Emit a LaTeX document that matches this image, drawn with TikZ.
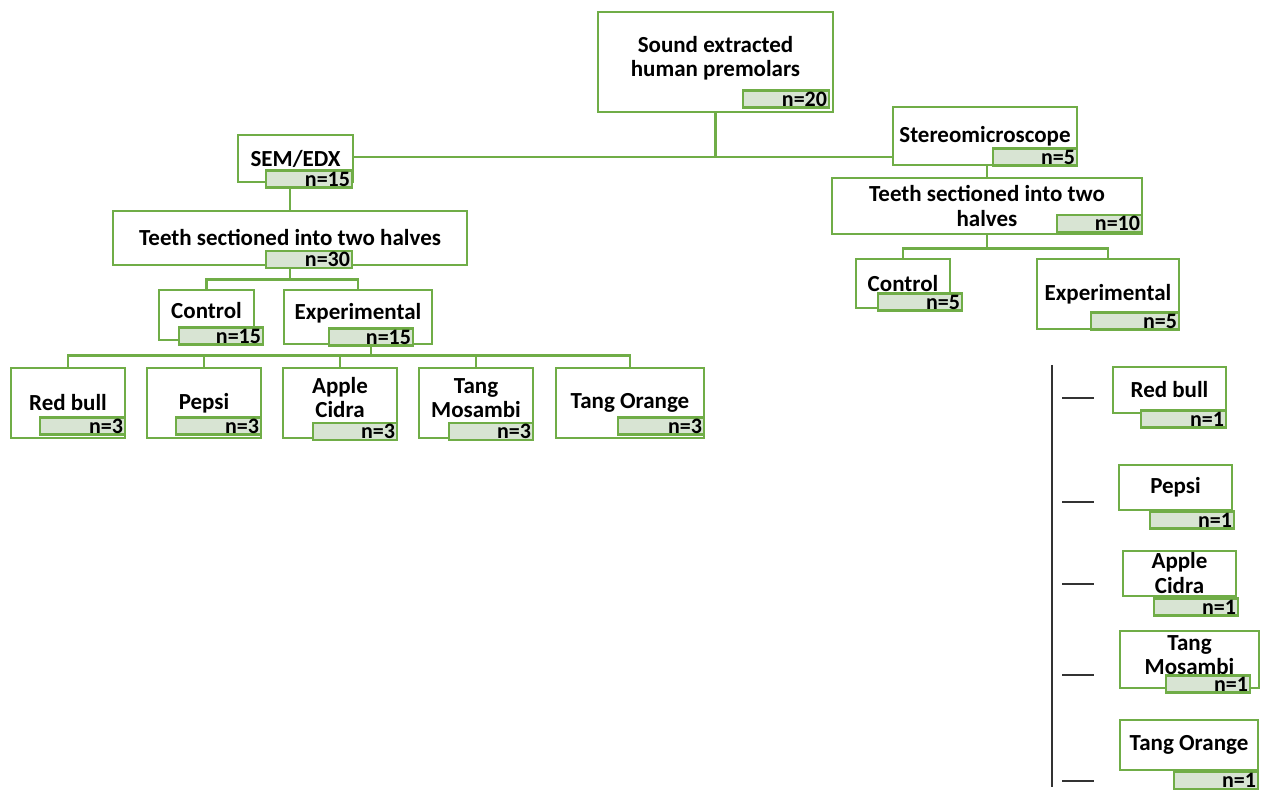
\documentclass[tikz,border=0pt]{standalone}
\usepackage{fontspec}
\setmainfont{Carlito}
\usepackage{tikz}
\usetikzlibrary{positioning, calc}
\definecolor{cG}{RGB}{112,173,71}
\definecolor{cN}{RGB}{216,228,211}
\begin{document}
\begin{tikzpicture}[x=1pt, y=-1pt,
                    txt/.style={inner sep=0pt, align=center, font=\fontsize{23}{24}\selectfont\bfseries},
                    grp/.style={draw=cG, line width=2.8pt, fill=white, inner sep=1pt, align=center,
                                font=\fontsize{23}{25}\selectfont\bfseries},
                    cnt/.style={draw=cG, line width=2.8pt, fill=cN, inner xsep=2pt, inner ysep=0pt,
                                text width=#1, align=right, minimum height=17pt,
                                font=\fontsize{22}{22}\selectfont\bfseries},
                    cnt/.default=80pt,
                    wire/.style={draw=cG, line width=2.8pt}]
    \useasboundingbox (0,0) rectangle (1264,791);

    % Top level
    \node[grp, minimum width=235pt, minimum height=100pt] (top) at (715.5,62) {};
    \node[txt] (topT) at ([yshift=4pt]top.center) {Sound extracted\\human premolars};
    \node[cnt, text width=82pt] (topN) at (786,99) {n=20};

    % Left branch: SEM/EDX
    \node[grp, minimum width=115pt, minimum height=47pt] (sem) at (295.5,158.5) {SEM/EDX};
    \node[cnt, text width=82pt] (semN) at (309,179) {n=15};
    \node[grp, minimum width=354pt, minimum height=54pt] (teethL) at (290,238) {Teeth sectioned into two halves};
    \node[cnt, text width=82pt] (teethLN) at (309,259.5) {n=30};
    \node[grp, minimum width=95pt, minimum height=50pt] (ctrlL) at (206.5,315) {};
    \node[txt] (ctrlLT) at ([yshift=4pt]ctrlL.center) {Control};
    \node[cnt] (ctrlLN) at (221,336) {n=15};
    \node[grp, minimum width=148pt, minimum height=54pt] (expL) at (358,317) {};
    \node[txt] (expLT) at ([yshift=4pt]expL.center) {Experimental};
    \node[cnt] (expLN) at (371,337) {n=15};

    % Drinks, left branch
    \node[grp, minimum width=114pt, minimum height=70pt] (rb) at (68,403) {Red bull};
    \node[cnt, text width=81pt] (rbN) at (82.5,426) {n=3};
    \node[grp, minimum width=114pt, minimum height=70pt] (pe) at (204,403) {Pepsi};
    \node[cnt, text width=81pt] (peN) at (218.5,426) {n=3};
    \node[grp, minimum width=114pt, minimum height=70pt] (ac) at (340,403) {};
    \node[txt] (acT) at ([yshift=5pt]ac.center) {Apple\\Cidra};
    \node[cnt] (acN) at (355,431.5) {n=3};
    \node[grp, minimum width=114pt, minimum height=70pt] (tm) at (476,403) {};
    \node[txt] (tmT) at ([yshift=5pt]tm.center) {Tang\\Mosambi};
    \node[cnt] (tmN) at (491,431.5) {n=3};
    \node[grp, minimum width=148pt, minimum height=70pt] (to) at (630,403) {Tang Orange};
    \node[cnt, text width=82pt] (toN) at (661,426) {n=3};

    % Right branch: Stereomicroscope
    \node[grp, minimum width=184pt, minimum height=58pt] (stereo) at (985,136) {Stereomicroscope};
    \node[cnt] (stereoN) at (1035,157) {n=5};
    \node[grp, minimum width=310pt, minimum height=56pt] (teethR) at (987,206) {Teeth sectioned into two\\halves};
    \node[cnt, text width=81pt] (teethRN) at (1099.5,223.5) {n=10};
    \node[grp, minimum width=94pt, minimum height=49pt] (ctrlR) at (903,283.5) {Control};
    \node[cnt] (ctrlRN) at (920,302) {n=5};
    \node[grp, minimum width=142pt, minimum height=70pt] (expR) at (1108,294) {Experimental};
    \node[cnt, text width=84pt] (expRN) at (1135,321) {n=5};

    % Drinks, right branch
    \node[grp, minimum width=113pt, minimum height=46pt] (rb2) at (1169.5,390) {Red bull};
    \node[cnt, text width=81pt] (rb2N) at (1183.5,419) {n=1};
    \node[grp, minimum width=113pt, minimum height=45pt] (pe2) at (1175.5,487.5) {Pepsi};
    \node[cnt] (pe2N) at (1192,520) {n=1};
    \node[grp, minimum width=113pt, minimum height=45pt] (ac2) at (1179.5,573.5) {Apple\\Cidra};
    \node[cnt] (ac2N) at (1196,607) {n=1};
    \node[grp, minimum width=139pt, minimum height=57pt] (tm2) at (1189.5,659.5) {};
    \node[txt] (tm2T) at ([yshift=4pt]tm2.center) {Tang\\Mosambi};
    \node[cnt] (tm2N) at (1208,684) {n=1};
    \node[grp, minimum width=138pt, minimum height=50pt] (to2) at (1189,745) {Tang Orange};
    \node[cnt] (to2N) at (1216,780.5) {n=1};

    % Connections
    \coordinate (j0) at (715.5,157);
    \draw[wire] (top.south) -- (j0);
    \draw[wire] (sem.east |- j0) -- (stereo.west |- j0);
    \draw[wire] (teethL.north) -- (teethL.north |- semN.south);
    \draw[wire] (teethLN.south -| teethL.south) -- ++(0,10) -| (ctrlL.north);
    \draw[wire] (teethLN.south -| teethL.south) -- ++(0,10) -| (expL.north);
    \foreach \b in {rb,pe,ac,tm,to}
        \draw[wire] (expLN.south) -- ++(0,9) -| (\b.north);
    \draw[wire] (teethR.north) -- (teethR.north |- stereo.south);
    \draw[wire] (teethR.south) -- ++(0,13) -| (ctrlR.north);
    \draw[wire] (teethR.south) -- ++(0,13) -| (expR.north);

    % Black rule with ticks
    \draw[line width=1.5pt, black!80] (1052,365) -- (1052,787);
    \foreach \y in {398,502,584,675,781}
        \draw[line width=1.5pt, black!80] (1062,\y) -- (1094,\y);
\end{tikzpicture}
\end{document}
